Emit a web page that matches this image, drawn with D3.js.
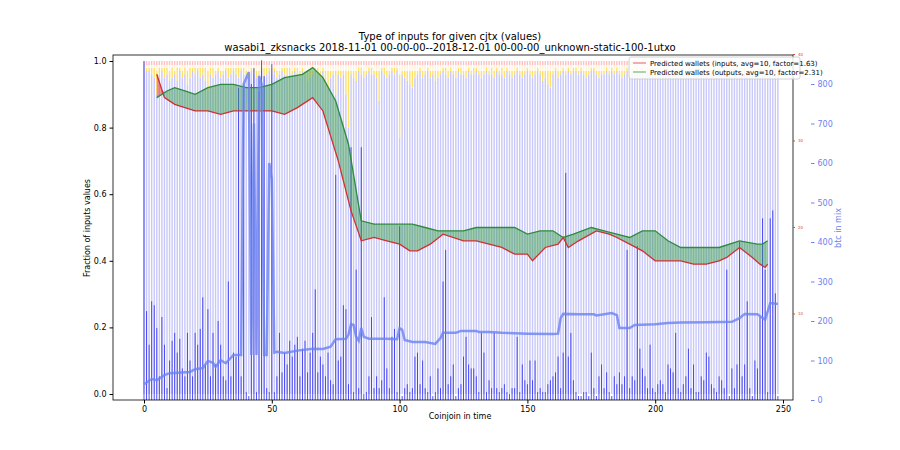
<!DOCTYPE html>
<html><head><meta charset="utf-8">
<script src="https://cdn.jsdelivr.net/npm/d3@7"></script>
<style>body{margin:0;background:#fff}text{font-family:"DejaVu Sans",sans-serif}</style>
</head><body><svg id="c" width="900" height="450"></svg>
<script>
const btc = [858,225,140,250,240,182,60,210,140,30,
100,150,170,120,155,80,60,170,100,60,
170,140,180,260,90,230,60,170,90,200,
140,60,50,300,60,120,110,790,60,800,
20,10,800,840,20,780,860,820,30,20,
850,20,60,170,70,120,90,150,110,140,
160,60,130,150,70,120,170,280,70,110,
90,60,120,50,40,570,100,110,240,230,
40,640,20,330,30,640,15,20,60,210,
30,60,30,50,260,80,30,160,180,20,
440,10,30,40,20,30,110,120,40,100,
30,20,60,10,20,80,30,300,380,40,
60,90,10,30,40,110,160,90,80,80,
60,20,170,120,20,50,30,170,30,20,
30,40,20,15,30,30,160,20,90,50,
40,100,50,100,20,30,20,20,40,50,
60,70,110,30,120,575,110,170,50,20,
10,10,20,20,10,120,30,10,60,90,
30,70,20,10,60,40,70,40,60,380,
30,60,50,390,130,80,60,30,140,30,
20,40,50,40,20,90,80,70,170,30,
20,40,60,130,30,90,20,20,60,50,
120,110,40,30,20,60,50,30,330,10,
80,30,90,400,60,90,250,30,10,100,
80,210,460,330,20,460,480,270,10];
const lav = [.99,.97,.97,.96,.95,.90,.96,.97,.95,.96,
.94,.95,.96,.94,.97,.95,.96,.93,.95,.97,
.96,.97,.95,.96,.94,.91,.96,.95,.96,.97,
.95,.96,.97,.95,.96,.97,.96,.95,.97,.96,
.96,.95,.97,.96,.95,.96,.97,.95,.96,.97,
.96,.97,.95,.96,.97,.96,.95,.96,.96,.97,
.96,.95,.97,.96,.94,.95,.96,.97,.96,.95,
.97,.93,.92,.95,.96,.90,.96,.95,.96,.90,
.80,.96,.95,.94,.97,.96,.95,.96,.97,.96,
.96,.95,.88,.97,.96,.95,.96,.97,.96,.97,
.77,.96,.95,.94,.93,.92,.95,.96,.97,.95,
.96,.97,.95,.96,.94,.95,.96,.97,.96,.95,
.97,.96,.95,.97,.96,.96,.95,.97,.96,.96,
.97,.96,.95,.96,.97,.96,.96,.95,.97,.96,
.96,.95,.97,.96,.95,.96,.97,.96,.95,.96,
.97,.96,.95,.96,.97,.96,.94,.95,.93,.92,
.96,.97,.95,.96,.97,.96,.97,.96,.97,.97,
.96,.97,.96,.95,.96,.97,.97,.96,.95,.96,
.96,.97,.96,.97,.96,.97,.96,.95,.96,.97,
.96,.97,.96,.97,.96,.97,.96,.97,.96,.97,
.96,.97,.96,.97,.96,.97,.96,.97,.96,.97,
.96,.97,.96,.97,.96,.97,.96,.97,.96,.97,
.96,.97,.96,.97,.96,.97,.96,.97,.96,.97,
.96,.97,.96,.97,.96,.97,.96,.97,.96,.97,
.96,.97,.96,.97,.96,.97,.96,.97,.96];
const yel = [.0,.01,.01,.02,.03,.07,.02,.01,.03,.02,
.03,.03,.01,.04,.01,.02,.02,.04,.03,.01,
.02,.01,.03,.02,.04,.06,.02,.03,.01,.01,
.02,.01,.01,.03,.02,.01,.02,.03,.01,.02,
.01,.02,.01,.02,.02,.01,.01,.03,.02,.01,
.02,.01,.02,.01,.01,.02,.03,.02,.01,.01,
.02,.02,.01,.01,.03,.02,.01,.01,.02,.02,
.01,.04,.05,.02,.01,.07,.01,.02,.01,.07,
.17,.01,.02,.03,.01,.02,.02,.01,.01,.02,
.01,.02,.09,.01,.02,.02,.01,.01,.02,.01,
.19,.01,.02,.03,.04,.05,.02,.01,.01,.02,
.01,.01,.02,.01,.03,.02,.01,.01,.02,.02,
.01,.01,.02,.01,.02,.01,.02,.01,.01,.02,
.01,.01,.02,.01,.01,.01,.02,.02,.01,.01,
.02,.02,.01,.01,.02,.01,.01,.01,.02,.01,
.01,.01,.02,.01,.01,.01,.03,.02,.04,.05,
.01,.01,.02,.01,.01,.01,.01,.01,.01,.01,
.01,.01,.01,.02,.01,.01,.01,.01,.02,.01,
.01,.01,.01,.01,.01,.01,.01,.02,.01,.01,
.01,.01,.01,.01,.01,.01,.01,.01,.01,.01,
.01,.01,.01,.01,.01,.01,.01,.01,.01,.01,
.01,.01,.01,.01,.01,.01,.01,.01,.01,.01,
.01,.01,.01,.01,.01,.01,.01,.01,.01,.01,
.01,.01,.01,.01,.01,.01,.01,.01,.01,.01,
.01,.01,.01,.01,.01,.01,.01,.01,.01];
const inX = [5,8,12,20,25,30,35,40,45,50,55,60,66,70,76,81,85,90,95,100,104,107,112,117,125,130,135,140,145,150,152,157,162,164,166,170,177,182,185,190,195,200,205,210,215,220,225,228,233,238,241,243,244];
const inV = [.96,.89,.87,.85,.85,.84,.85,.85,.85,.85,.84,.86,.89,.85,.70,.55,.46,.47,.46,.45,.43,.43,.45,.48,.46,.46,.45,.44,.42,.42,.40,.44,.45,.47,.44,.46,.49,.48,.47,.45,.43,.40,.40,.40,.39,.39,.40,.41,.44,.41,.39,.38,.39];
const outX = [5,9,12,16,20,25,30,35,40,45,50,55,62,66,70,75,80,85,90,95,100,105,110,115,120,125,130,135,140,145,150,155,160,164,168,175,180,185,190,195,200,205,210,215,220,225,233,240,242,244];
const outV = [.89,.91,.92,.91,.90,.92,.93,.93,.92,.92,.93,.95,.96,.98,.95,.88,.75,.52,.51,.51,.51,.51,.50,.49,.49,.49,.50,.50,.50,.50,.48,.49,.49,.47,.48,.50,.49,.48,.47,.49,.49,.46,.44,.44,.44,.44,.46,.45,.45,.46];
const maX = [0,3,5,8,10,18,20,23,25,27,28,30,32,35,37,38,39,41,42,43,44,45,46,47,48,49,50,51,52,55,60,66,70,73,75,79,80,81,82,83,84,85,86,88,95,99,100,101,102,105,110,114,116,117,122,124,130,131,135,140,150,160,162,163,164,170,176,177,183,185,186,190,192,200,205,210,220,230,233,235,240,243,245,246,248];
const maV = [40,53,50,63,68,71,78,81,99,94,84,101,93,114,114,114,800,830,114,700,114,820,800,114,114,600,560,120,122,119,125,130,129,135,154,155,165,192,190,160,150,182,160,155,155,154,182,178,152,147,147,142,157,170,170,175,175,172,172,170,168,167,168,207,218,217,217,214,220,215,182,182,190,192,195,196,197,198,207,218,217,203,245,245,243];
const xTicks=[0,50,100,150,200,250], yTicks=[0,.2,.4,.6,.8,1.0], bTicks=[0,100,200,300,400,500,600,700,800], rTicks=[10,20,30,40];
const title1="Type of inputs for given cjtx (values)", title2="wasabi1_zksnacks 2018-11-01 00-00-00--2018-12-01 00-00-00_unknown-static-100-1utxo";
const legendLabels=["Predicted wallets (inputs, avg=10, factor=1.63)","Predicted wallets (outputs, avg=10, factor=2.31)"];

const svg=d3.select("#c");
const L=113,R=793,T=55,B=400;
const x=d3.scaleLinear().domain([0,250]).range([144,783]);
const y=d3.scaleLinear().domain([0,1]).range([394,61]);
const yb=d3.scaleLinear().domain([0,800]).range([400,84]);
const yr=d3.scaleLinear().domain([0,40]).range([400,54]);
const idx=d3.range(btc.length);
const g=svg.append("g");
const bw=1.4;
idx.forEach(i=>{
  const l=lav[i], yy=yel[i], p=0.012;
  const segs=[[0,l,"#c8c8fa"],[l,l+yy,"#ffe066"],[l+yy,1-p,"#fff3dc"],[1-p,1,"#ffc0c0"]];
  segs.forEach(s=>{ if(s[1]>s[0]) g.append("rect").attr("x",x(i)-bw/2).attr("width",bw).attr("y",y(s[1])).attr("height",y(s[0])-y(s[1])).attr("fill",s[2]);});
});
g.selectAll(".b").data(idx).join("rect").attr("x",i=>x(i)-0.5).attr("width",1).attr("y",i=>yb(btc[i])).attr("height",i=>yb(0)-yb(btc[i])).attr("fill","#3333ee").attr("opacity",0.85);
const xs=d3.range(5,245);
function interp(X,V,t){const f=d3.scaleLinear().domain(X).range(V);return f(t);}
const pts=xs.map(t=>({t,a:interp(inX,inV,t),b:interp(outX,outV,t)}));
g.append("path").datum(pts).attr("d",d3.area().x(d=>x(d.t)).y0(d=>y(d.a)).y1(d=>y(Math.max(d.a,d.b)))).attr("fill","#2e9a44").attr("opacity",0.45);
g.append("path").datum(pts).attr("d",d3.area().x(d=>x(d.t)).y0(d=>y(d.b)).y1(d=>y(Math.max(d.a,d.b)))).attr("fill","#e0303a").attr("opacity",0.5);
const ln=d3.line().x(d=>x(d[0])).y(d=>y(d[1]));
g.append("path").datum(inX.map((t,i)=>[t,inV[i]])).attr("d",ln).attr("fill","none").attr("stroke","#d03030").attr("stroke-width",1.3);
g.append("path").datum(outX.map((t,i)=>[t,outV[i]])).attr("d",ln).attr("fill","none").attr("stroke","#2e8a3c").attr("stroke-width",1.3);
g.append("path").datum(maX.map((t,i)=>[t,maV[i]])).attr("d",d3.line().x(d=>x(d[0])).y(d=>yb(d[1]))).attr("fill","none").attr("stroke","#6a82f0").attr("stroke-width",2.5).attr("opacity",0.8);
svg.append("rect").attr("x",L).attr("y",T).attr("width",R-L).attr("height",B-T).attr("fill","none").attr("stroke","#000").attr("stroke-width",0.8);
const ax=svg.append("g").attr("transform",`translate(0,${B})`).call(d3.axisBottom(x).tickValues(xTicks).tickSize(3.5));
const ay=svg.append("g").attr("transform",`translate(${L},0)`).call(d3.axisLeft(y).tickValues(yTicks).tickSize(3.5).tickFormat(d3.format(".1f")));
const ab=svg.append("g").attr("transform",`translate(811,0)`).call(d3.axisRight(yb).tickValues(bTicks).tickSize(3.5));
ab.select(".domain").remove(); ab.selectAll("line").attr("stroke","#6a82f0"); ab.selectAll("text").attr("fill","#6a82f0");
const ar=svg.append("g").attr("transform",`translate(${R},0)`).call(d3.axisRight(yr).tickValues(rTicks).tickSize(2));
ar.select(".domain").remove(); ar.selectAll("line").attr("stroke","#e04040"); ar.selectAll("text").attr("fill","#e04040").style("font-size","4px");
[ax,ay,ab].forEach(a=>a.selectAll("text").style("font-size","8px"));
ax.select(".domain").remove(); ay.select(".domain").remove();
svg.append("text").attr("x",450).attr("y",40).attr("text-anchor","middle").style("font-size","10px").text(title1);
svg.append("text").attr("x",450).attr("y",51).attr("text-anchor","middle").style("font-size","10px").text(title2);
svg.append("text").attr("x",460).attr("y",419).attr("text-anchor","middle").style("font-size","8px").text("Coinjoin in time");
svg.append("text").attr("transform","translate(90,228) rotate(-90)").attr("text-anchor","middle").style("font-size","8px").text("Fraction of inputs values");
svg.append("text").attr("transform","translate(841,228) rotate(-90)").attr("text-anchor","middle").style("font-size","8px").attr("fill","#6a82f0").text("btc in mix");
const lg=svg.append("g").attr("transform","translate(629,57)");
lg.append("rect").attr("width",171).attr("height",22).attr("fill","#fff").attr("opacity",0.85).attr("stroke","#ccc").attr("rx",2);
["#f08080","#7fbf7f"].forEach((c,i)=>{
  lg.append("line").attr("x1",4).attr("x2",17).attr("y1",6+i*9).attr("y2",6+i*9).attr("stroke",c).attr("stroke-width",1.3);
  lg.append("text").attr("x",21).attr("y",9+i*9).style("font-size","7px").text(legendLabels[i]);
});
</script></body></html>
